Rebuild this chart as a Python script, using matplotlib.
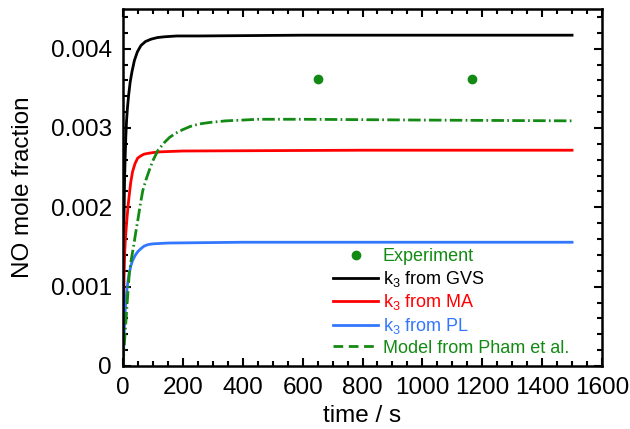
import matplotlib
matplotlib.use("Agg")
import matplotlib.pyplot as plt
from matplotlib.ticker import MultipleLocator, FuncFormatter

plt.rcParams['font.family'] = ['Liberation Sans', 'DejaVu Sans']
plt.rcParams['mathtext.fontset'] = 'custom'
plt.rcParams['mathtext.rm'] = 'Liberation Sans'
plt.rcParams['mathtext.it'] = 'Liberation Sans'

# ---- data ----
t_gvs = [0, 1, 2, 3, 5, 7, 9.5, 12, 15, 19, 24, 30, 38, 48, 60, 75, 94, 115, 139,
         180, 250, 600, 1000, 1500]
y_gvs = [0, 0.0007, 0.0013, 0.0017, 0.0023, 0.0026, 0.0029, 0.0031, 0.00326,
         0.00342, 0.00358, 0.00371, 0.00385, 0.00396, 0.00404, 0.00409, 0.00412,
         0.00414, 0.00415, 0.00416, 0.00416, 0.00417, 0.00417, 0.00417]

t_ma = [0, 1, 2, 3, 4, 6, 8, 10, 13, 17, 21, 26, 32, 40, 49, 60, 70, 83, 100, 127,
        200, 800, 1500]
y_ma = [0, 0.0004, 0.0007, 0.001, 0.0012, 0.00146, 0.0016, 0.0017, 0.00185,
        0.00202, 0.00216, 0.00232, 0.00245, 0.00255, 0.00262, 0.00265, 0.00267,
        0.00268, 0.00269, 0.0027, 0.00271, 0.00272, 0.00272]

t_pl = [0, 1, 2, 4, 6, 9, 13, 17, 21, 26, 32, 40, 49, 60, 70, 83, 100, 150, 400, 1500]
y_pl = [0, 0.0001, 0.0002, 0.00042, 0.00062, 0.0008, 0.00096, 0.00108, 0.00117,
        0.00126, 0.00133, 0.00139, 0.00144, 0.00148, 0.00151, 0.00153, 0.00154,
        0.00155, 0.00156, 0.00156]

t_pham = [0, 5, 10, 15, 21, 28, 35, 42, 50, 58, 66, 77, 88, 100, 117, 139, 155, 174,
          200, 225, 253, 290, 343, 400, 450, 600, 1000, 1500]
y_pham = [0, 0.0003, 0.00058, 0.00085, 0.00117, 0.00135, 0.0015, 0.00167, 0.00185,
          0.00204, 0.00221, 0.00235, 0.00247, 0.00259, 0.00272, 0.00282, 0.00288,
          0.00293, 0.00298, 0.00302, 0.00305, 0.00307, 0.00309, 0.0031, 0.00311,
          0.00311, 0.0031, 0.00309]

t_exp = [652, 1167]
y_exp = [0.00362, 0.00362]

labels = ['Experiment', r'k$_3$ from GVS', r'k$_3$ from MA', r'k$_3$ from PL',
          'Model from Pham et al.']
xlabel = 'time / s'
ylabel = 'NO mole fraction'

green = '#138a13'
colors = ['black', '#ff0000', '#3377ff']

fig = plt.figure(figsize=(6.3, 4.29), dpi=100)
ax = fig.add_axes([123/630, 1-366/429, (602-123)/630, (366-9)/429])

h_exp, = ax.plot(t_exp, y_exp, 'o', color=green, ms=6, lw=0)
h1, = ax.plot(t_gvs, y_gvs, color=colors[0], lw=2)
h2, = ax.plot(t_ma, y_ma, color=colors[1], lw=2)
h3, = ax.plot(t_pl, y_pl, color=colors[2], lw=2)
h4, = ax.plot(t_pham, y_pham, color=green, lw=2)
h4.set_dashes([4.5, 1.2, 0.6, 1.2])

ax.set_xlim(0, 1600)
ax.set_ylim(0, 0.0045)
ax.xaxis.set_major_locator(MultipleLocator(200))
ax.xaxis.set_minor_locator(MultipleLocator(50))
ax.yaxis.set_major_locator(MultipleLocator(0.001))
ax.yaxis.set_minor_locator(MultipleLocator(0.0002))
ax.yaxis.set_major_formatter(FuncFormatter(lambda v, p: '0' if abs(v) < 1e-12 else '%.3f' % v))

for s in ax.spines.values():
    s.set_linewidth(1.8)
ax.tick_params(which='both', direction='in', top=True, right=True, labelsize=17.5, width=1.5)
ax.tick_params(which='major', length=6, pad=8)
ax.tick_params(which='minor', length=3.3)

ax.set_xlabel(xlabel, fontsize=17.5, labelpad=4.5)
ax.set_ylabel(ylabel, fontsize=17.5, labelpad=12)

leg = ax.legend([h_exp, h1, h2, h3, h4], labels, loc='lower left',
                bbox_to_anchor=((333-123)/479, 0.026), frameon=False, fontsize=13,
                handlelength=2.5, handletextpad=0.25, labelspacing=0.2,
                borderpad=0, borderaxespad=0, numpoints=1)
leg_h = leg.legend_handles
leg_h[4].set_dashes([3.5, 2])
for txt, c in zip(leg.get_texts(), [green, colors[0], colors[1], colors[2], green]):
    txt.set_color(c)

fig.savefig('out.png', dpi=100)
